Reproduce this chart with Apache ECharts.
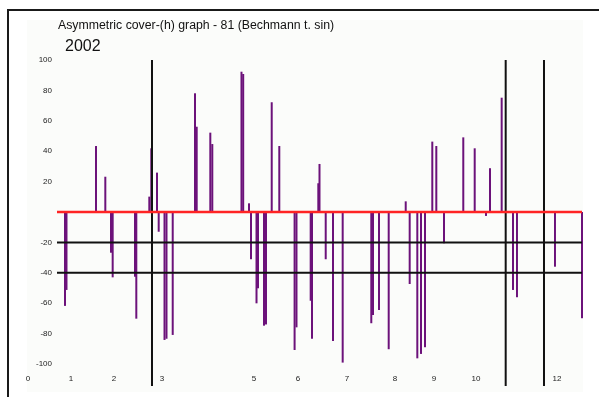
<!DOCTYPE html>
<html>
<head>
<meta charset="utf-8">
<style>
  html, body { margin: 0; padding: 0; background: #ffffff; }
  #chart { width: 599px; height: 397px; }
</style>
<script src="https://cdn.jsdelivr.net/npm/echarts@6/dist/echarts.min.js"></script>
</head>
<body>
<div id="chart"></div>
<script>
// Spike positions along the year (month units) and their values
const spikePos = [
  0.839, 0.873, 1.543, 1.754, 1.883, 1.921, 2.427, 2.457, 2.752, 2.797,
  2.927, 2.965, 3.097, 3.142, 3.283, 3.789, 3.827, 4.136, 4.181, 4.843,
  4.882, 5.014, 5.059, 5.184, 5.218, 5.354, 5.399, 5.529, 5.701, 6.048,
  6.091, 6.413, 6.443, 6.586, 6.613, 6.754, 6.919, 7.139, 7.788, 7.827,
  7.963, 8.183, 8.569, 8.659, 8.832, 8.916, 9.006, 9.172, 9.263, 9.437,
  9.875, 10.134, 10.390, 10.481, 10.746, 11.003, 11.093, 11.955, 12.568
];
const spikeVal = [
  -61.8, -51.3, 43.4, 23.2, -26.8, -43.0, -42.6, -70.2, 10.1, 41.9,
  25.9, -13.0, -84.2, -83.4, -80.9, 78.1, 56.1, 52.2, 44.7, 92.3,
  90.8, 5.7, -31.1, -60.1, -50.2, -74.8, -74.0, 72.2, 43.4, -90.8,
  -75.9, -58.4, -83.4, 18.9, 31.6, -31.1, -84.9, -99.1, -73.2, -67.8,
  -64.5, -90.3, 7.0, -47.4, -96.3, -93.4, -89.0, 46.3, 43.4, -20.6,
  49.1, 41.9, -2.6, 28.8, 75.2, -51.3, -56.1, -36.0, -69.9
];

// Reference levels and the span they cover
const zeroLevel = 0;
const thresholdLevels = [-20, -40];
const levelSpan = [0.658, 12.568];

// Vertical dividers
const dividerPos = [2.813, 10.837, 11.706];

// Tick labels
const xTickPos = [0, 0.975, 1.951, 3.040, 5.127, 6.125, 7.237, 8.326, 9.210, 10.163, 12];
const xTickText = ['0', '1', '2', '3', '5', '6', '7', '8', '9', '10', '12'];
const yTickVals = [100, 80, 60, 40, 20, -20, -40, -60, -80, -100];

const yMin = -114.5;
const yMax = 100;

const chart = echarts.init(document.getElementById('chart'), null, { renderer: 'canvas' });

const series = [];

series.push({
  type: 'bar',
  data: spikePos.map((x, i) => [x, spikeVal[i]]),
  barWidth: 2,
  itemStyle: { color: '#6c127a' },
  silent: true,
  z: 2
});

thresholdLevels.forEach(lv => {
  series.push({
    type: 'line',
    data: [[levelSpan[0], lv], [levelSpan[1], lv]],
    symbol: 'none',
    lineStyle: { color: '#111111', width: 2 },
    silent: true,
    z: 4
  });
});

dividerPos.forEach(x => {
  series.push({
    type: 'line',
    data: [[x, yMax], [x, yMin]],
    symbol: 'none',
    lineStyle: { color: '#111111', width: 2 },
    silent: true,
    z: 4
  });
});

series.push({
  type: 'line',
  data: [[levelSpan[0], zeroLevel], [levelSpan[1], zeroLevel]],
  symbol: 'none',
  lineStyle: { color: '#ff2424', width: 2.5 },
  silent: true,
  z: 5
});

const option = {
  animation: false,
  backgroundColor: '#ffffff',
  textStyle: { fontFamily: 'Liberation Sans, Arial, sans-serif' },
  title: [
    {
      text: 'Asymmetric cover-(h) graph - 81 (Bechmann t. sin)',
      left: 58, top: 20, padding: 0,
      textStyle: { fontSize: 12.3, fontWeight: 'normal', color: '#111111' }
    },
    {
      text: '2002',
      left: 65, top: 39, padding: 0,
      textStyle: { fontSize: 16, fontWeight: 'normal', color: '#111111' }
    }
  ],
  graphic: [
    {
      type: 'rect', z: -10, silent: true,
      shape: { x: 27, y: 20, width: 556, height: 372 },
      style: { fill: '#fbfcfa' }
    },
    {
      type: 'rect', z: 100, silent: true,
      shape: { x: 8, y: 10, width: 640, height: 440 },
      style: { fill: 'none', stroke: '#1a1a1a', lineWidth: 2 }
    }
  ],
  grid: {
    left: 28, top: 60, width: 555.4, height: 326,
    containLabel: false, outerBoundsMode: 'none'
  },
  xAxis: {
    type: 'value',
    min: 0, max: 12.6,
    offset: -14,
    axisLine: { show: false },
    axisTick: { show: false },
    splitLine: { show: false },
    axisLabel: {
      customValues: xTickPos,
      margin: 3,
      fontSize: 8,
      color: '#222222',
      formatter: function (v) {
        let best = 0;
        for (let i = 1; i < xTickPos.length; i++) {
          if (Math.abs(xTickPos[i] - v) < Math.abs(xTickPos[best] - v)) best = i;
        }
        return xTickText[best];
      }
    }
  },
  yAxis: {
    type: 'value',
    min: yMin, max: yMax,
    offset: -28,
    axisLine: { show: false },
    axisTick: { show: false },
    splitLine: { show: false },
    axisLabel: {
      customValues: yTickVals,
      margin: 4,
      fontSize: 8,
      color: '#222222',
      formatter: function (v) { return String(Math.round(v)); }
    }
  },
  series: series
};

chart.setOption(option);
</script>
</body>
</html>
